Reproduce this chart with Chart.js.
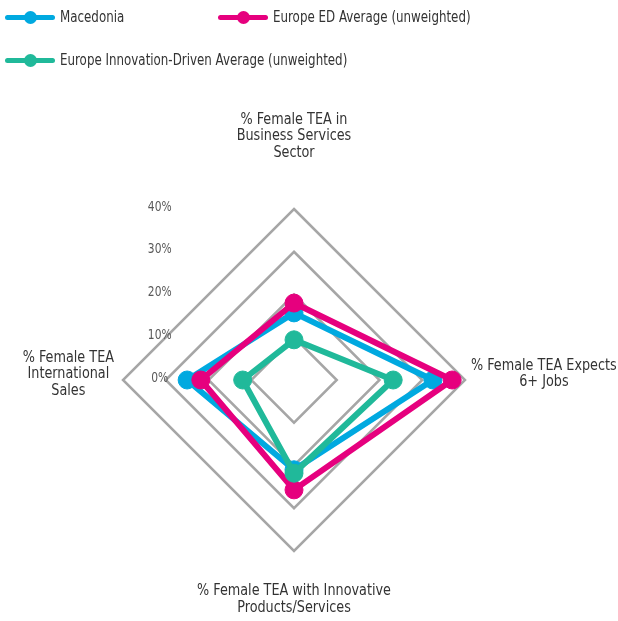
<!DOCTYPE html>
<html>
<head>
<meta charset="utf-8">
<script src="https://cdn.jsdelivr.net/npm/chart.js@4/dist/chart.umd.min.js"></script>
<style>
  html, body { margin: 0; padding: 0; background: #fff; overflow: hidden; }
  #wrap { position: relative; width: 618px; height: 621px; }
  #legend { position: absolute; left: 0; top: 0; width: 618px; height: 80px; z-index: 2;
    font: 15px 'DejaVu Sans Condensed', 'Liberation Sans Narrow', 'Liberation Sans', sans-serif; color: #333; }
  .item { position: absolute; display: flex; align-items: center; height: 20px; white-space: nowrap; }
  .sym { position: relative; width: 50px; height: 20px; margin-right: 5px; flex: none; }
  .sym .ln { position: absolute; left: 0; right: 0; top: 8px; height: 5px; border-radius: 3px; }
  .sym .dot { position: absolute; left: 19px; top: 4px; width: 13px; height: 13px; border-radius: 50%; }
  .txt { display: inline-block; transform: scaleX(0.88); transform-origin: 0 50%; }
  #chart { position: absolute; left: 0; top: 0; }
</style>
</head>
<body>
<div id="wrap">
  <div id="legend"></div>
  <canvas id="chart" width="618" height="621"></canvas>
</div>
<script>
const FONT = "'DejaVu Sans Condensed', 'Liberation Sans Narrow', 'Liberation Sans', sans-serif";

// axes, clockwise from the top
const axisLabels = [
  ['% Female TEA in', 'Business Services', 'Sector'],
  ['% Female TEA Expects', '6+ Jobs'],
  ['% Female TEA with Innovative', 'Products/Services'],
  ['% Female TEA', 'International', 'Sales']
];

const seriesNames = [
  'Macedonia',
  'Europe ED Average (unweighted)',
  'Europe Innovation-Driven Average (unweighted)'
];
const macedonia = [15.7, 32.5, 21, 25];
const europeED = [18, 37, 25.7, 21.8];
const europeInnovation = [9.4, 23.2, 21.8, 12];

const tickLabels = ['0%', '10%', '20%', '30%', '40%'];

const colors = ['#00A9E0', '#E6007E', '#20B99A'];

// little legend in the top left corner
const legendSpots = [[5, 7], [218, 7], [5, 50]];
const legendBox = document.getElementById('legend');
seriesNames.forEach((name, i) => {
  const it = document.createElement('div');
  it.className = 'item';
  it.style.left = legendSpots[i][0] + 'px';
  it.style.top = legendSpots[i][1] + 'px';
  it.innerHTML = '<span class="sym"><span class="ln" style="background:' + colors[i] +
    '"></span><span class="dot" style="background:' + colors[i] + '"></span></span>';
  const t = document.createElement('span');
  t.className = 'txt';
  t.textContent = name;
  it.appendChild(t);
  legendBox.appendChild(it);
});

// the font on hand is wider than the original, so squeeze it a little
function narrowText(ctx, text, x, y, k) {
  ctx.save();
  ctx.translate(x, y);
  ctx.scale(k, 1);
  ctx.fillText(text, 0, 0);
  ctx.restore();
}

// tick labels sit off to the left, axis titles are centred text blocks
const axisText = {
  id: 'axisText',
  beforeDatasetsDraw(chart) {
    const s = chart.scales.r;
    const ctx = chart.ctx;
    ctx.save();
    ctx.font = '14px ' + FONT;
    ctx.fillStyle = '#595959';
    ctx.textAlign = 'center';
    ctx.textBaseline = 'middle';
    const tx = s.xCenter - s.drawingArea * 0.785;
    s.ticks.forEach(t => {
      narrowText(ctx, t.label, tx, s.yCenter - s.getDistanceFromCenterForValue(t.value) - 2, 0.85);
    });
    ctx.restore();
  },
  afterDraw(chart) {
    const s = chart.scales.r;
    const ctx = chart.ctx;
    const gaps = [48, 6, 32, 9];
    const lh = 16.6;
    const k = 0.89;
    ctx.save();
    ctx.font = '16px ' + FONT;
    ctx.fillStyle = '#333';
    ctx.textAlign = 'center';
    ctx.textBaseline = 'middle';
    axisLabels.forEach((lines, i) => {
      const p = s.getPointPosition(i, s.drawingArea + gaps[i]);
      const a = s.getIndexAngle(i);
      const sin = Math.sin(a), cos = Math.cos(a);
      const w = k * Math.max(...lines.map(l => ctx.measureText(l).width));
      const h = lines.length * lh;
      const cx = p.x + sin * w / 2;
      const cy = p.y - cos * h / 2 - 6 * Math.abs(sin);
      lines.forEach((l, j) => narrowText(ctx, l, cx, cy - h / 2 + lh * (j + 0.5), k));
    });
    ctx.restore();
  }
};

const data = [macedonia, europeED, europeInnovation];

new Chart(document.getElementById('chart'), {
  type: 'radar',
  data: {
    labels: axisLabels,
    datasets: data.map((d, i) => ({
      label: seriesNames[i],
      data: d,
      order: 3 - i,
      fill: false,
      borderColor: colors[i],
      backgroundColor: colors[i],
      pointBackgroundColor: colors[i],
      pointBorderColor: colors[i],
      borderWidth: 6,
      borderJoinStyle: 'round',
      pointRadius: 9,
      pointHoverRadius: 9,
      pointBorderWidth: 1
    }))
  },
  options: {
    responsive: false,
    animation: false,
    layout: { padding: { left: 123, right: 153, top: 209, bottom: 70 } },
    plugins: {
      legend: { display: false },
      tooltip: { enabled: false }
    },
    scales: {
      r: {
        min: 0,
        max: 40,
        ticks: {
          stepSize: 10,
          display: false,
          callback: (v, i) => tickLabels[i]
        },
        grid: { color: '#A6A6A6', lineWidth: 2.5 },
        angleLines: { display: false },
        pointLabels: { display: false }
      }
    }
  },
  plugins: [axisText]
});
</script>
</body>
</html>
